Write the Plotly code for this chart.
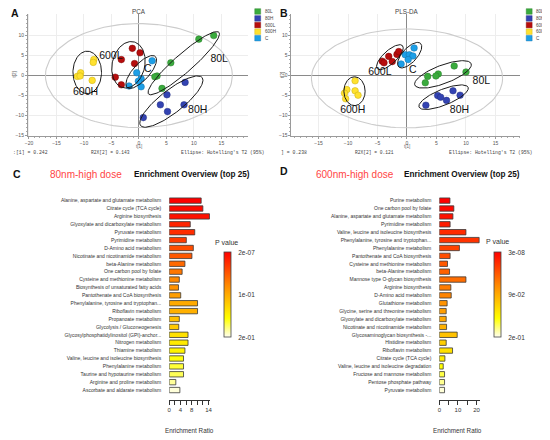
import numpy as np
import plotly.graph_objects as go

# the page adds an 8px body margin; the figure is sized to fill the rest of the 550x440 window
OFF = 8
W, H = 550 - OFF, 440 - OFF
def px(x): return (x - OFF) / W
def py(y): return 1 - (y - OFF) / H

# ---------------- data ----------------
groups = ["80L", "80H", "600L", "600H", "C"]
group_colors = ["#3aab3d", "#3343b2", "#b70d0d", "#ffe12f", "#1d9fe7"]
group_edges = ["#2a7d2c", "#222f80", "#7d0808", "#c9ae10", "#1470a8"]

# PCA scores (t[1], t[2])
pca_t1_80L = [13.6, 10.9, 5.8, 3.3, 2.9, 4.2]
pca_t2_80L = [10.0, 9.1, 3.2, -0.1, -0.3, -3.2]
pca_t1_80H = [8.4, 5.1, 3.9, 8.2, 5.2, 0.8]
pca_t2_80H = [-1.7, -4.8, -7.3, -7.3, -9.0, -10.5]
pca_t1_600L = [-1.2, 0.2, -3.2, -0.8, -4.3, -3.2]
pca_t2_600L = [6.8, 5.7, 4.0, 3.0, -0.4, -2.3]
pca_t1_600H = [-8.2, -8.3, -10.6, -11.2, -10.7, -8.5]
pca_t2_600H = [4.0, 3.3, 0.7, -0.2, -0.1, -1.2]
pca_t1_C = [2.4, -0.4, 0.4, -0.1, -1.8, 0.4]
pca_t2_C = [3.7, 0.7, -0.8, -1.4, -2.6, -2.8]

# PLS-DA scores
pls_t1_80L = [8.0, 10.0, 5.3, 4.9, 3.5, 3.1]
pls_t2_80L = [2.4, 0.9, 0.4, -0.1, -0.2, -1.8]
pls_t1_80H = [7.8, 9.0, 5.2, 5.7, 6.7, 3.2]
pls_t2_80H = [-3.8, -4.9, -5.0, -5.4, -6.2, -7.4]
pls_t1_600L = [-4.2, -3.9, -3.1, -2.5, -1.7, -1.4]
pls_t2_600L = [3.6, 3.2, 4.8, 3.5, 5.3, 6.0]
pls_t1_600H = [-8.8, -10.2, -8.8, -10.6, -8.3, -10.4]
pls_t2_600H = [-1.3, -3.5, -3.8, -4.4, -4.9, -5.8]
pls_t1_C = [-0.3, 0.4, 1.2, 1.0, 0.2, -1.0]
pls_t2_C = [5.2, 5.2, 6.9, 4.9, 4.0, 2.9]

# group ellipses: centre and two conjugate semi-axis vectors (data units)
pca_ellipses = [(8.15, 3.1, 6.4, 7.7, 1.09, -1.74),
                (5.9, -6.5, 5.6, 6.0, 1.28, -2.27),
                (-1.9, 2.7, 3.0, 0.0, 0.5, 5.8),
                (-9.4, 0.8, 2.6, 0.0, 0.0, 5.3),
                (0.42, 0.9, 2.56, 3.87, 1.10, -1.39)]
pca_hotelling = (0.0, 0.0, 17.0, 0.0, 0.0, 13.0)
pls_ellipses = [(6.1, 0.3, 4.78, 2.67, 0.56, -2.15),
                (6.2, -5.4, 4.16, 2.47, 0.51, -1.83),
                (-2.9, 4.6, 2.13, 2.88, 0.76, -1.21),
                (-8.9, -3.9, 1.8, 0.0, 0.0, 3.6),
                (0.45, 5.1, 1.83, 2.96, 0.92, -1.21)]
pls_hotelling = (0.0, -0.7, 16.2, 0.0, 0.0, 12.35)

pca_label_x = [14.6, 10.7, -5.1, -9.7, 1.6]
pca_label_y = [4.0, -8.8, 4.8, -4.1, 1.6]
pls_label_x = [12.6, 8.9, -4.6, -9.2, 1.0]
pls_label_y = [-1.4, -8.6, 0.9, -8.8, 1.2]

# Enrichment (C: 80nm-high dose)
c_pathways = ["Alanine, aspartate and glutamate metabolism", "Citrate cycle (TCA cycle)",
              "Arginine biosynthesis", "Glyoxylate and dicarboxylate metabolism",
              "Pyruvate metabolism", "Pyrimidine metabolism", "D-Amino acid metabolism",
              "Nicotinate and nicotinamide metabolism", "beta-Alanine metabolism",
              "One carbon pool by folate", "Cysteine and methionine metabolism",
              "Biosynthesis of unsaturated fatty acids", "Pantothenate and CoA biosynthesis",
              "Phenylalanine, tyrosine and tryptophan...", "Riboflavin metabolism",
              "Propanoate metabolism", "Glycolysis / Gluconeogenesis",
              "Glycosylphosphatidylinositol (GPI)-anchor...", "Nitrogen metabolism",
              "Thiamine metabolism", "Valine, leucine and isoleucine biosynthesis",
              "Phenylalanine metabolism", "Taurine and hypotaurine metabolism",
              "Arginine and proline metabolism", "Ascorbate and aldarate metabolism"]
c_ratio = [11.4, 12.0, 14.35, 7.5, 9.1, 6.1, 8.6, 8.1, 5.6, 4.6, 3.6, 3.3, 4.1,
           10.1, 10.1, 3.6, 3.4, 6.7, 6.7, 5.6, 5.1, 5.1, 5.1, 2.35, 3.8]
c_pvalue = [2e-7, 0.005, 0.01, 0.02, 0.026, 0.034, 0.044, 0.05, 0.06, 0.068, 0.078,
            0.084, 0.092, 0.1, 0.104, 0.114, 0.12, 0.136, 0.142, 0.148, 0.158, 0.166,
            0.172, 0.184, 0.196]

# Enrichment (D: 600nm-high dose)
d_pathways = ["Purine metabolism", "One carbon pool by folate",
              "Alanine, aspartate and glutamate metabolism", "Pyrimidine metabolism",
              "Valine, leucine and isoleucine biosynthesis",
              "Phenylalanine, tyrosine and tryptophan...", "Phenylalanine metabolism",
              "Pantothenate and CoA biosynthesis", "Cysteine and methionine metabolism",
              "beta-Alanine metabolism", "Mannose type O-glycan biosynthesis",
              "Arginine biosynthesis", "D-Amino acid metabolism", "Glutathione metabolism",
              "Glycine, serine and threonine metabolism",
              "Glyoxylate and dicarboxylate metabolism",
              "Nicotinate and nicotinamide metabolism", "Glycosaminoglycan biosynthesis -...",
              "Histidine metabolism", "Riboflavin metabolism", "Citrate cycle (TCA cycle)",
              "Valine, leucine and isoleucine degradation", "Fructose and mannose metabolism",
              "Pentose phosphate pathway", "Pyruvate metabolism"]
d_ratio = [5.7, 7.8, 7.3, 5.8, 14.3, 21.4, 10.8, 5.8, 4.4, 5.5, 14.3, 6.2, 6.4, 4.2,
           3.7, 3.7, 3.9, 9.6, 3.7, 7.1, 3.0, 2.1, 2.8, 2.8, 2.8]
d_pvalue = [3e-8, 0.004, 0.009, 0.014, 0.022, 0.026, 0.034, 0.04, 0.046, 0.05, 0.056,
            0.064, 0.068, 0.076, 0.082, 0.088, 0.094, 0.104, 0.112, 0.122, 0.13, 0.14,
            0.152, 0.164, 0.176]

c_bar_ticks = [0, 2, 4, 6, 8, 10, 12, 14]
c_bar_ticktext = ["0", "", "4", "", "8", "", "", "14"]
d_bar_ticks = [0, 5, 10, 15, 20]
d_bar_ticktext = ["0", "", "10", "", "20"]
c_cbar_ticktext = ["2e-07", "1e-01", "2e-01"]
d_cbar_ticktext = ["3e-08", "9e-02", "2e-01"]

# ---------------- figure ----------------
fig = go.Figure()
FONT = "Liberation Sans, Arial, sans-serif"
MONO = "Liberation Mono, Courier New, monospace"

pca_scores = {"80L": (pca_t1_80L, pca_t2_80L), "80H": (pca_t1_80H, pca_t2_80H),
              "600L": (pca_t1_600L, pca_t2_600L), "600H": (pca_t1_600H, pca_t2_600H),
              "C": (pca_t1_C, pca_t2_C)}
pls_scores = {"80L": (pls_t1_80L, pls_t2_80L), "80H": (pls_t1_80H, pls_t2_80H),
              "600L": (pls_t1_600L, pls_t2_600L), "600H": (pls_t1_600H, pls_t2_600H),
              "C": (pls_t1_C, pls_t2_C)}

theta = np.linspace(0, 2 * np.pi, 120)
def ellipse_xy(p):
    cx, cy, ux, uy, vx, vy = p
    return cx + np.cos(theta) * ux + np.sin(theta) * vx, cy + np.cos(theta) * uy + np.sin(theta) * vy

for scores, ells, hot, lx, ly, xa, ya in [
        (pca_scores, pca_ellipses, pca_hotelling, pca_label_x, pca_label_y, "x", "y"),
        (pls_scores, pls_ellipses, pls_hotelling, pls_label_x, pls_label_y, "x2", "y2")]:
    hx, hy = ellipse_xy(hot)
    fig.add_trace(go.Scatter(x=hx, y=hy, mode="lines", xaxis=xa, yaxis=ya,
                             line=dict(color="#cccccc", width=1.1), showlegend=False, hoverinfo="skip"))
    for g, col, edge in zip(groups, group_colors, group_edges):
        t1, t2 = scores[g]
        fig.add_trace(go.Scatter(x=t1, y=t2, mode="markers", xaxis=xa, yaxis=ya,
                                 marker=dict(size=6.6, color=col, line=dict(color=edge, width=0.5)),
                                 showlegend=False, name=g))
    for p in ells:
        ex, ey = ellipse_xy(p)
        fig.add_trace(go.Scatter(x=ex, y=ey, mode="lines", xaxis=xa, yaxis=ya,
                                 line=dict(color="#1a1a1a", width=1.0), showlegend=False, hoverinfo="skip"))
    fig.add_trace(go.Scatter(x=lx, y=ly, text=groups, mode="text", xaxis=xa, yaxis=ya,
                             textfont=dict(size=10.5, color="#111111", family=FONT),
                             showlegend=False, hoverinfo="skip"))

heat = [[0.0, "#FFFFF0"], [0.22, "#FFFF00"], [0.6, "#FF8C00"], [1.0, "#FF0000"]]

def cbar(x0, ticks, texts):
    return dict(x=px(x0), xanchor="left", y=py(297), yanchor="middle",
                len=85, lenmode="pixels", thickness=6.8,
                outlinewidth=0.8, outlinecolor="#444444",
                tickvals=ticks, ticktext=texts,
                ticks="outside", ticklen=6, tickcolor="rgba(0,0,0,0)",
                tickfont=dict(size=6.5, color="#333333", family=FONT),
                xpad=0, ypad=0, borderwidth=0)

fig.add_trace(go.Bar(x=c_ratio, y=c_pathways, orientation="h", xaxis="x3", yaxis="y3", width=0.68,
                     marker=dict(color=[-p for p in c_pvalue], colorscale=heat, cmin=-0.2, cmax=0,
                                 line=dict(color="#3a3a3a", width=0.8), showscale=True,
                                 colorbar=cbar(222.7, [-2e-7, -0.1, -0.2], c_cbar_ticktext)),
                     showlegend=False))
fig.add_trace(go.Bar(x=d_ratio, y=d_pathways, orientation="h", xaxis="x4", yaxis="y4", width=0.68,
                     marker=dict(color=[-p for p in d_pvalue], colorscale=heat, cmin=-0.18, cmax=0,
                                 line=dict(color="#3a3a3a", width=0.8), showscale=True,
                                 colorbar=cbar(495.3, [-3e-8, -0.09, -0.18], d_cbar_ticktext)),
                     showlegend=False))

sc_x = dict(showgrid=True, gridcolor="#ededed", gridwidth=0.6, zeroline=True, zerolinecolor="#8a8a8a",
            zerolinewidth=1, showline=True, linecolor="#9a9a9a", linewidth=0.8,
            ticks="outside", ticklen=2, tickcolor="#9a9a9a", tickwidth=0.6,
            tickvals=[-20, -15, -10, -5, 0, 5, 10, 15],
            tickfont=dict(size=5, color="#555555", family=FONT),
            minor=dict(ticks="outside", ticklen=1.2, dtick=1, tickcolor="#aaaaaa", showgrid=False))
sc_y = dict(showgrid=True, gridcolor="#ededed", gridwidth=0.6, zeroline=True, zerolinecolor="#8a8a8a",
            zerolinewidth=1, showline=True, linecolor="#9a9a9a", linewidth=0.8,
            ticks="outside", ticklen=2, tickcolor="#9a9a9a", tickwidth=0.6,
            tickvals=[-15, -10, -5, 0, 5, 10], range=[-15, 15.4],
            tickfont=dict(size=5, color="#555555", family=FONT),
            minor=dict(ticks="outside", ticklen=1.2, dtick=1, tickcolor="#aaaaaa", showgrid=False))

bar_y = dict(type="category", range=[24.5, -0.5], showgrid=False, zeroline=False, showline=False,
             ticks="", ticklabelstandoff=7, tickfont=dict(size=5, color="#333333", family=FONT))
bar_x = dict(anchor="free", position=py(403), showgrid=False, zeroline=False, showline=True,
             linecolor="#333333", linewidth=0.8, ticks="outside", ticklen=4, tickcolor="#333333",
             tickwidth=0.8, tickfont=dict(size=6, color="#333333", family=FONT))

fig.update_layout(
    width=W, height=H, autosize=False, margin=dict(l=0, r=0, t=0, b=0),
    paper_bgcolor="white", plot_bgcolor="white", showlegend=False, bargap=0.3,
    xaxis=dict(domain=[px(25), px(247)], range=[-20.2, 19.8], anchor="y", **sc_x),
    yaxis=dict(domain=[py(136.5), py(14)], anchor="x", **sc_y),
    xaxis2=dict(domain=[px(291), px(522)], range=[-19.6, 19.2], anchor="y2", **sc_x),
    yaxis2=dict(domain=[py(136.5), py(14)], anchor="x2", **sc_y),
    xaxis3=dict(domain=[px(167.7), px(167.7 + 14.6 * 2.83)], range=[0, 14.6],
                tickvals=c_bar_ticks, ticktext=c_bar_ticktext, **bar_x),
    yaxis3=dict(domain=[py(396.7), py(198)], anchor="x3", categoryorder="array",
                categoryarray=c_pathways, **bar_y),
    xaxis4=dict(domain=[px(440.3), px(440.3 + 21.8 * 1.88)], range=[0, 21.8],
                tickvals=d_bar_ticks, ticktext=d_bar_ticktext, **bar_x),
    yaxis4=dict(domain=[py(396.7), py(198)], anchor="x4", categoryorder="array",
                categoryarray=d_pathways, **bar_y),
)

ann = []
def A(x, y, text, size, color="#222222", family=FONT, xanchor="center", yanchor="middle", angle=0):
    ann.append(dict(x=px(x), y=py(y), xref="paper", yref="paper", text=text, showarrow=False,
                    font=dict(size=size, color=color, family=family), xanchor=xanchor,
                    yanchor=yanchor, textangle=angle))

# panel letters and titles
A(12, 13, "<b>A</b>", 10.5, "#111111")
A(284, 13, "<b>B</b>", 10.5, "#111111")
A(14, 175, "<b>C</b>", 10.5, "#111111")
A(284, 172, "<b>D</b>", 10.5, "#111111")
A(137, 11.5, "PCA", 6.3, "#444444")
A(408, 11.5, "PLS-DA", 6.3, "#444444")
A(12, 75, "t[2]", 4.5, "#666666", angle=-90)
A(282, 75, "t[2]", 4.5, "#666666", angle=-90)
A(137, 147.5, "t[1]", 4.5, "#666666")
A(408, 147.5, "t[1]", 4.5, "#666666")
A(8, 153.5, ":[1] = 0.242", 4.8, "#444444", MONO, xanchor="left")
A(87, 153.5, "R2X[2] = 0.143", 4.6, "#444444", MONO, xanchor="left")
A(178, 153.5, "Ellipse: Hotelling's T2 (95%)", 4.8, "#444444", MONO, xanchor="left")
A(278, 153.5, "] = 0.238", 4.8, "#444444", MONO, xanchor="left")
A(353, 153.5, "R2X[2] = 0.121", 4.6, "#444444", MONO, xanchor="left")
A(448, 153.5, "Ellipse: Hotelling's T2 (95%)", 4.8, "#444444", MONO, xanchor="left")

# enrichment titles
A(45, 176, "80nm-high dose", 10, "#ff4545", xanchor="left")
A(130, 175.5, "<b>Enrichment Overview (top 25)</b>", 8.2, "#111111", xanchor="left")
A(314, 176, "600nm-high dose", 10, "#ff4545", xanchor="left")
A(403, 175.5, "<b>Enrichment Overview (top 25)</b>", 8.2, "#111111", xanchor="left")
A(226, 244, "P value", 7, "#333333")
A(499, 243, "P value", 7, "#333333")
A(188, 433, "Enrichment Ratio", 6.3, "#333333")
A(459, 433, "Enrichment Ratio", 6.3, "#333333")

# legends for A and B
shapes = []
legend_rows = [11.5, 18.5, 25.2, 31.8, 38.4]
for lx0 in (254, 528):
    for g, col, edge, yy in zip(groups, group_colors, group_edges, legend_rows):
        shapes.append(dict(type="rect", xref="paper", yref="paper",
                           x0=px(lx0), x1=px(lx0 + 6), y0=py(yy + 2.8), y1=py(yy - 2.8),
                           fillcolor=col, line=dict(color=edge, width=0.4)))
        A(lx0 + 8, yy, g, 4.6, "#444444", xanchor="left")

fig.update_layout(annotations=ann, shapes=shapes)
fig.write_html("out.html")
